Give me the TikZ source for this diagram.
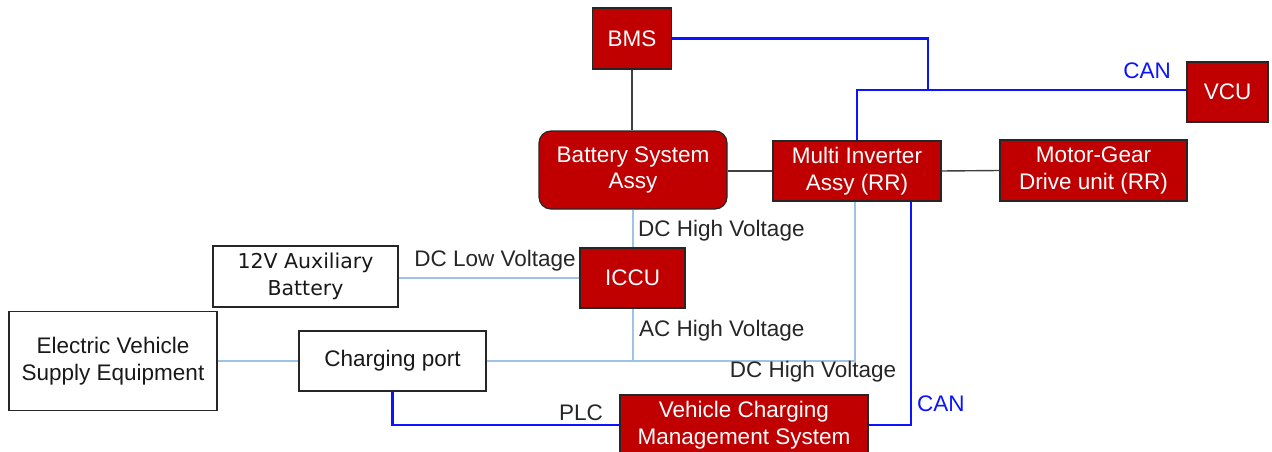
\documentclass[tikz,border=0pt]{standalone}
\usepackage{fontspec}
\setmainfont{Liberation Sans}
\newfontfamily\auxfont{DejaVu Sans}
\definecolor{boxred}{HTML}{C00000}
\definecolor{canblue}{HTML}{0A14FF}
\definecolor{hvblue}{HTML}{9DC3E6}
\definecolor{linkgray}{HTML}{404040}
\tikzset{
  ecu/.style={draw=black!85,line width=1.2pt,fill=boxred,text=white,align=center,inner sep=0pt,
    font=\fontsize{22.5}{26.5}\selectfont},
  plainbox/.style={draw=black!85,line width=1.2pt,fill=white,text=black!90,align=center,inner sep=0pt,
    font=\fontsize{22.5}{26.5}\selectfont},
  canline/.style={draw=canblue,line width=2.6pt},
  hvline/.style={draw=hvblue,line width=2pt},
  mechline/.style={draw=linkgray,line width=1.4pt},
  lbl/.style={inner sep=0pt,text=black!85,font=\fontsize{22.5}{26.5}\selectfont},
  canlbl/.style={lbl,text=canblue}
}
\begin{document}
\begin{tikzpicture}[x=1pt,y=-1pt]
\useasboundingbox (0,0) rectangle (1272,452);
% control units
\node[ecu,minimum width=79,minimum height=61] (bms) at (632,38.5) {BMS};
\node[ecu,rounded corners=12pt,minimum width=188,minimum height=78] (battery) at (633,170) {Battery System\\Assy};
\node[ecu,minimum width=168,minimum height=60] (inverter) at (857,171) {Multi Inverter\\Assy (RR)};
\node[ecu,minimum width=187,minimum height=61] (motor) at (1093.5,170.5) {Motor-Gear\\Drive unit (RR)};
\node[ecu,minimum width=81,minimum height=60] (vcu) at (1227.5,92) {VCU};
\node[ecu,minimum width=105,minimum height=60] (iccu) at (632.5,278) {ICCU};
\node[ecu,minimum width=248,minimum height=60] (vcms) at (744,425) {Vehicle Charging\\Management System};
% outside the control units
\node[plainbox,minimum width=185,minimum height=61,font=\auxfont\fontsize{20.5}{27}\selectfont] (aux) at (305.5,276.5) {12V Auxiliary\\Battery};
\node[plainbox,minimum width=208,minimum height=99] (evse) at (113,361) {Electric Vehicle\\Supply Equipment};
\node[plainbox,minimum width=187,minimum height=60] (port) at (392.5,361) {Charging port};
% CAN bus
\coordinate (canjoin) at (928,90);
\draw[canline] (bms.east) -| (canjoin);
\draw[canline] (inverter.north) |- (canjoin -| vcu.west);
\draw[canline] (vcms.east) -| ([xshift=54pt]inverter.south);
\draw[canline] (port.south) |- (vcms.west);
% mechanical / direct links
\draw[mechline] (bms.south) -- (bms.south |- battery.north);
\draw[mechline] (inverter.west) -- (inverter.west -| battery.east);
\draw[mechline] (inverter.east) -- (motor.west);
% power lines
\draw[hvline] (iccu.north) -- (iccu.north |- battery.south);
\draw[hvline] (iccu.west) -- (iccu.west -| aux.east);
\draw[hvline] (evse.east) -- (port.west);
\draw[hvline] (port.east) -| ([xshift=-2pt]inverter.south);
\draw[hvline] (iccu.south) -- (iccu.south |- port.east);
% labels
\node[canlbl] (canvcu) at (1147,71) {CAN};
\node[canlbl,anchor=west] (canvcms) at (917,404) {CAN};
\node[lbl,anchor=west] (dchv) at (638,231) {DC High Voltage};
\node[lbl] (dclv) at (495,261) {DC Low Voltage};
\node[lbl,anchor=west] (achv) at (639,331) {AC High Voltage};
\node[lbl] (dchvport) at (813,372) {DC High Voltage};
\node[lbl] (plc) at (581,413) {PLC};
\end{tikzpicture}
\end{document}
